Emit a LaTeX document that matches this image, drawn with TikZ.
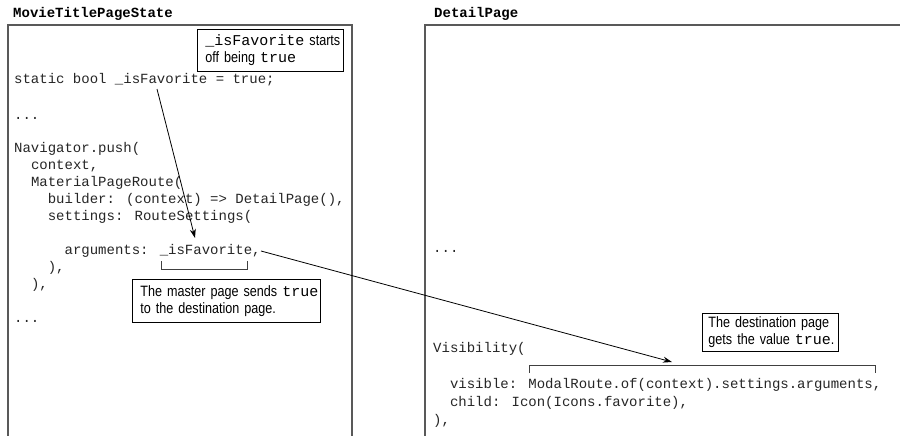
\documentclass[tikz,border=0pt]{standalone}
\usepackage{fontspec}
\setmainfont{Liberation Sans}
\newfontfamily\codefont{Liberation Mono}
\newfontfamily\condfont[FakeStretch=0.84]{Liberation Sans}
\usetikzlibrary{arrows.meta}
\begin{document}
\begin{tikzpicture}[x=1pt,y=-1pt,
  code/.style={anchor=base west, inner sep=0pt, text=black!85, font=\codefont\fontsize{14}{17}\selectfont},
  pagetitle/.style={anchor=base west, inner sep=0pt, font=\codefont\bfseries\fontsize{14}{17}\selectfont},
  page/.style={draw=black!65, line width=1.4pt},
  callout/.style={draw=black, line width=0.9pt, anchor=north west, align=left, inner ysep=0pt, font=\condfont\fontsize{15}{17}\selectfont},
  link/.style={draw, line width=0.8pt, -{Stealth[length=9pt,width=6pt]}},
  bracketline/.style={draw=black!75, line width=1pt}]
\clip (0,0) rectangle (900,436);
\fill[white] (0,0) rectangle (900,436);
% pages
\draw[page] (8,440) -- (8,25) -- (352,25) -- (352,440);
\draw[page] (425,440) -- (425,25) -- (905,25);
\node[pagetitle] (t1) at (13,18) {MovieTitlePageState};
\node[pagetitle] (t2) at (434,18) {DetailPage};
% left code
\node[code] (l1) at (14,84) {static bool \_isFavorite = true;};
\node[code] (l2) at (14,119) {...};
\node[code] (l3) at (14,152) {Navigator.push(};
\node[code] (l4) at (30.8,169) {context,};
\node[code] (l5) at (30.8,186) {MaterialPageRoute(};
\node[code] (l6) at (47.6,203) {builder: (context) => DetailPage(),};
\node[code] (l7) at (47.6,220) {settings: RouteSettings(};
\node[code] (l8) at (64.4,254) {arguments: \_isFavorite,};
\node[code] (l9) at (47.6,271) {),};
\node[code] (l10) at (30.8,288) {),};
\node[code] (l11) at (14,322) {...};
% right code
\node[code] (r1) at (433,252) {...};
\node[code] (r2) at (433,352) {Visibility(};
\node[code] (r3) at (449.8,388) {visible: ModalRoute.of(context).settings.arguments,};
\node[code] (r4) at (449.8,406) {child: Icon(Icons.favorite),};
\node[code] (r5) at (433,424) {),};
% callouts
\node[callout, inner xsep=8pt, text width=130pt, minimum height=42pt] (c1) at (197,29)
  {\mbox{{\codefont\_isFavorite} starts}\\\mbox{off being {\codefont true}}};
\node[callout, inner xsep=8pt, text width=172pt, minimum height=43pt] (c2) at (132,279)
  {\mbox{The master page sends {\codefont true}}\\\mbox{to the destination page.}};
\node[callout, inner xsep=6pt, text width=124pt, minimum height=38pt] (c3) at (702,313)
  {\mbox{The destination page}\\\mbox{gets the value {\codefont true}.}};
% brackets
\draw[bracketline] (161,261) -- (161,269) -- (247,269) -- (247,261);
\draw[bracketline] (529,373) -- (529,365) -- (875,365) -- (875,373);
% arrows
\coordinate (a1s) at (157,89);
\coordinate (a1e) at (195,238);
\coordinate (a2s) at (261,251);
\coordinate (a2e) at (672,362);
\draw[link] (a1s) -- (a1e);
\draw[link] (a2s) -- (a2e);
\end{tikzpicture}
\end{document}
